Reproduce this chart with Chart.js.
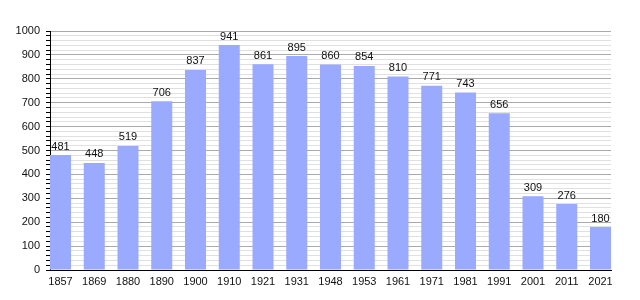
<!DOCTYPE html>
<html>
<head>
<meta charset="utf-8">
<script src="https://cdn.jsdelivr.net/npm/chart.js@4/dist/chart.umd.min.js"></script>
<style>
  html, body { margin: 0; padding: 0; background: #fff; }
  canvas { display: block; }
</style>
</head>
<body>
<canvas id="popChart" width="640" height="300"></canvas>
<script>
const years = ['1857', '1869', '1880', '1890', '1900', '1910', '1921', '1931', '1948', '1953', '1961', '1971', '1981', '1991', '2001', '2011', '2021'];
const population = [481, 448, 519, 706, 837, 941, 861, 895, 860, 854, 810, 771, 743, 656, 309, 276, 180];
const yMax = 1000;
const majorStep = 100;
const minorStep = 20;

// write the value above every bar
const barLabels = {
    id: 'barLabels',
    afterDatasetsDraw(chart) {
        const ctx = chart.ctx;
        ctx.save();
        ctx.font = '11px "Liberation Sans", Arial, sans-serif';
        ctx.fillStyle = '#111';
        ctx.textAlign = 'center';
        ctx.textBaseline = 'bottom';
        chart.getDatasetMeta(0).data.forEach((bar, i) => {
            ctx.fillText(population[i], bar.x, bar.y - 3);
        });
        ctx.restore();
    }
};

const popChart = new Chart(document.getElementById('popChart').getContext('2d'), {
    type: 'bar',
    data: {
        datasets: [{
            data: population.map((v, i) => ({ x: i, y: v })),
            backgroundColor: '#99aaff',
            categoryPercentage: 1,
            barPercentage: 0.622
        }]
    },
    options: {
        responsive: false,
        animation: false,
        maintainAspectRatio: false,
        layout: { padding: { top: 31, right: 29, left: 0, bottom: 0 } },
        plugins: {
            legend: { display: false },
            tooltip: { enabled: false }
        },
        scales: {
            x: {
                type: 'linear',
                offset: false,
                min: -0.311,
                max: years.length - 1 + 0.311,
                afterBuildTicks(axis) {
                    axis.ticks = years.map((y, i) => ({ value: i }));
                },
                afterFit(axis) { axis.height = 30; },
                grid: { display: false, drawTicks: false, offset: false },
                border: { color: '#000', width: 1 },
                ticks: {
                    autoSkip: false,
                    maxRotation: 0,
                    padding: 5,
                    color: '#111',
                    font: { family: '"Liberation Sans", Arial, sans-serif', size: 11 },
                    callback: (v) => years[v]
                }
            },
            y: {
                min: 0,
                max: yMax,
                afterFit(axis) { axis.width = 50; },
                border: { color: '#000', width: 1 },
                grid: {
                    color: (c) => c.tick && c.tick.value % majorStep === 0 ? '#aaaaaa' : '#e0e0e0',
                    tickColor: '#000',
                    tickLength: 4
                },
                ticks: {
                    stepSize: minorStep,
                    autoSkip: false,
                    padding: 6,
                    color: '#111',
                    font: { family: '"Liberation Sans", Arial, sans-serif', size: 11 },
                    callback: (v) => v % majorStep === 0 ? v : ''
                }
            }
        }
    },
    plugins: [barLabels]
});
</script>
</body>
</html>
